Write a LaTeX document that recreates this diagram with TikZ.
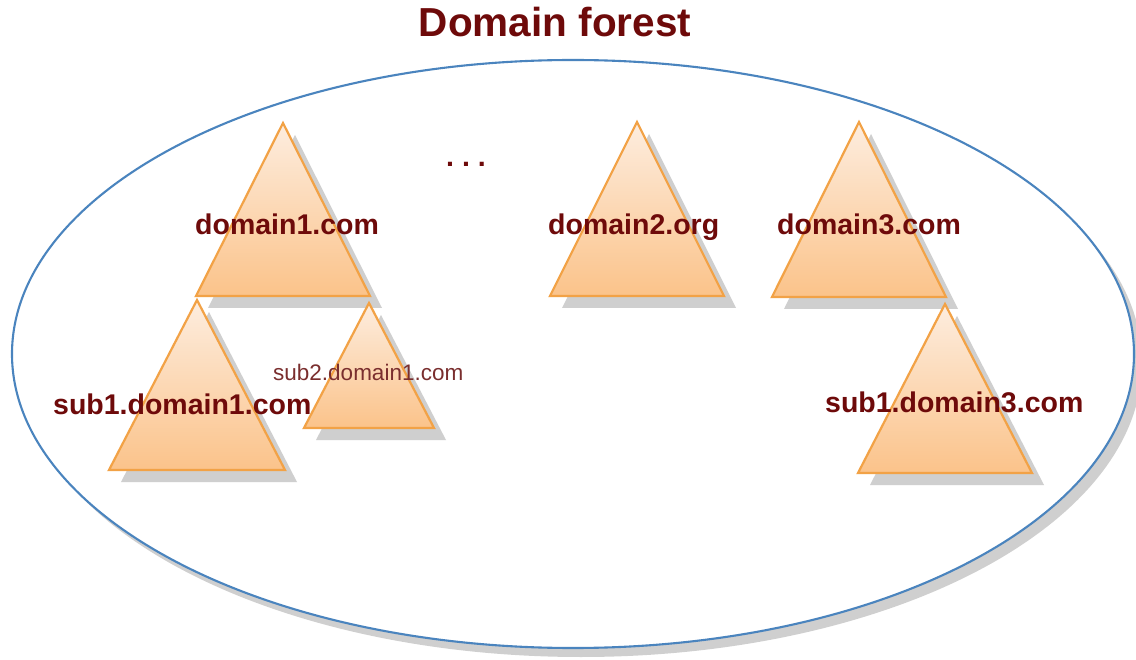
\documentclass[tikz,border=0pt]{standalone}
\usepackage{fontspec}
\setmainfont{Liberation Sans}
\usepackage{tikz}
\usetikzlibrary{positioning}
\usepackage{xcolor}

\definecolor{labelred}{HTML}{6E0A0A}
\definecolor{smallred}{HTML}{7A2E2E}
\definecolor{treeline}{HTML}{F2A246}
\definecolor{treetop}{HTML}{FDEDDF}
\definecolor{treebottom}{HTML}{FBC38A}
\definecolor{forestblue}{HTML}{4A84BE}
\definecolor{shadowgray}{HTML}{CFCFCF}

\tikzset{
  domlabel/.style={font=\fontsize{28.5}{34}\selectfont\bfseries, text=labelred, inner sep=0pt, anchor=base west},
  sublabel/.style={font=\fontsize{22.5}{27}\selectfont, text=smallred, inner sep=0pt, anchor=base west},
  tree/.style={draw=treeline, line width=2.2pt, line join=miter, top color=treetop, bottom color=treebottom},
  treeshadow/.style={fill=shadowgray},
  forest/.style={draw=forestblue, line width=2.1pt, fill=white}
}

\begin{document}
\begin{tikzpicture}[x=1pt,y=-1pt]
    \useasboundingbox (0,0) rectangle (1136,660);
    % Titel
    \node[font=\fontsize{40.5}{48}\selectfont\bfseries, text=labelred, inner sep=0pt, anchor=base] (title) at (555,37) {Domain forest};
    % Wald
    \fill[shadowgray] (581,363) ellipse [x radius=561, y radius=294];
    \draw[forest] (573,354) ellipse [x radius=561, y radius=294];
    % Schatten
    \foreach \ax/\ay/\hw/\h in {283/123/87/173, 637/122/87/174, 859/122/87/175, 197/300/88/170, 369/303/65/125, 945/304/87/169}
      \fill[treeshadow] (\ax+12,\ay+12) -- ++(\hw,\h) -- ++(-2*\hw,0) -- cycle;
    % Baeume
    \foreach \ax/\ay/\hw/\h in {283/123/87/173, 637/122/87/174, 859/122/87/175, 197/300/88/170, 369/303/65/125, 945/304/87/169}
      \path[tree] (\ax,\ay) -- ++(\hw,\h) -- ++(-2*\hw,0) -- cycle;
    % Domaenen
    \node[domlabel] (dom1) at (195,235) {domain1.com};
    \node[domlabel] (dom2) at (548,235) {domain2.org};
    \node[domlabel] (dom3) at (777,235) {domain3.com};
    \node[domlabel] (sub1dom1) at (53,415) {sub1.domain1.com};
    \node[sublabel] (sub2dom1) at (273,381) {sub2.domain1.com};
    \node[domlabel] (sub1dom3) at (825,413) {sub1.domain3.com};
    \node[domlabel, anchor=base] (dots) at (466,167) {.\ .\ .};
\end{tikzpicture}
\end{document}
